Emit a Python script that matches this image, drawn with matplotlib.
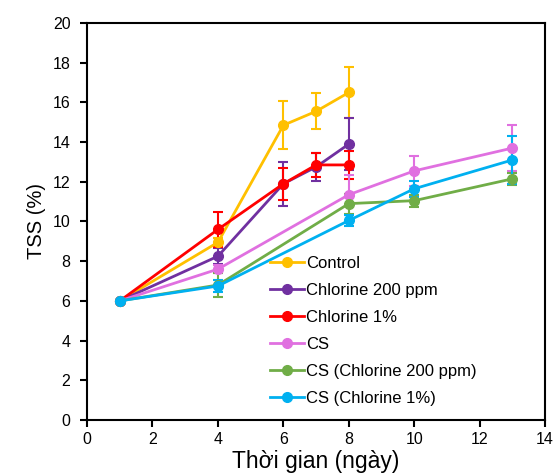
import matplotlib
matplotlib.use("Agg")
import matplotlib.pyplot as plt

plt.rcParams['font.family'] = ['Liberation Sans', 'DejaVu Sans']

days_ctrl = [1, 4, 6, 7, 8]
days_cs = [1, 4, 8, 10, 13]

control = [6.0, 8.95, 14.85, 15.55, 16.5]
control_err = [0.0, 0.2, 1.2, 0.9, 1.3]
chl200 = [6.0, 8.25, 11.9, 12.75, 13.9]
chl200_err = [0.0, 0.4, 1.1, 0.7, 1.3]
chl1 = [6.0, 9.6, 11.9, 12.85, 12.85]
chl1_err = [0.0, 0.9, 0.8, 0.6, 0.7]
cs = [6.0, 7.6, 11.35, 12.55, 13.7]
cs_err = [0.0, 0.2, 1.0, 0.75, 1.15]
cs200 = [6.0, 6.8, 10.9, 11.05, 12.15]
cs200_err = [0.0, 0.6, 0.5, 0.3, 0.3]
cs1 = [6.0, 6.75, 10.05, 11.65, 13.1]
cs1_err = [0.0, 0.3, 0.3, 0.4, 1.2]

labels = ["Control", "Chlorine 200 ppm", "Chlorine 1%", "CS",
          "CS (Chlorine 200 ppm)", "CS (Chlorine 1%)"]
colors = ["#FFC000", "#7030A0", "#FF0000", "#E070E0", "#70AD47", "#00B0F0"]

series = [
    (days_ctrl, control, control_err),
    (days_ctrl, chl200, chl200_err),
    (days_ctrl, chl1, chl1_err),
    (days_cs, cs, cs_err),
    (days_cs, cs200, cs200_err),
    (days_cs, cs1, cs1_err),
]

fig = plt.figure(figsize=(5.58, 4.75), dpi=100)
ax = fig.add_axes([0.156, 0.1158, 0.821, 0.8358])

handles = []
for (x, y, e), lab, c in zip(series, labels, colors):
    ax.errorbar(x, y, yerr=e, color=c, ecolor=c, elinewidth=1.5, capsize=3.5,
                capthick=1.5, linestyle='none', zorder=2)
    h, = ax.plot(x, y, color=c, linewidth=2, marker='o', markersize=7,
                 label=lab, zorder=3)
    handles.append(h)

ax.set_xlim(0, 14)
ax.set_ylim(0, 20)
ax.set_xticks(range(0, 15, 2))
ax.set_yticks(range(0, 21, 2))
ax.tick_params(direction='out', length=5, width=1.5, labelsize=11.5)
ax.tick_params(axis='y', pad=7)
for sp in ax.spines.values():
    sp.set_linewidth(1.5)

ax.set_xlabel("Thời gian (ngày)", fontsize=16.5, labelpad=2)
ax.set_ylabel("TSS (%)", fontsize=14.5, labelpad=5)

ax.legend(handles=handles, loc='upper left', bbox_to_anchor=(0.40, 0.413),
          frameon=False, fontsize=12, handlelength=2.0, handletextpad=0.15,
          labelspacing=0.72, borderpad=0, borderaxespad=0)

fig.savefig("out.png", dpi=100)
